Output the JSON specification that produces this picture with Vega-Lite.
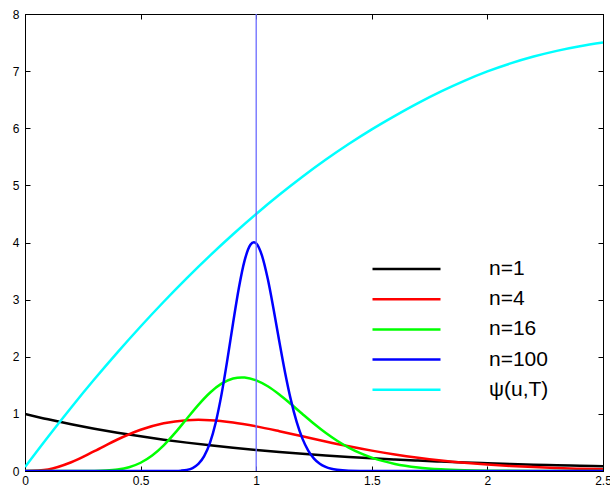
{
  "$schema": "https://vega.github.io/schema/vega-lite/v6.json",
  "width": 578,
  "height": 457,
  "autosize": {"type": "none"},
  "padding": {"left": 25, "top": 14, "right": 7, "bottom": 18},
  "config": {
    "view": {"stroke": "black", "strokeWidth": 1},
    "font": "Liberation Sans",
    "axis": {"grid": false, "domainColor": "black", "tickColor": "black", "labelColor": "black", "labelFontSize": 12, "labelFont": "Liberation Sans", "tickSize": -5, "title": null, "domainWidth": 1, "tickWidth": 1, "format": "~g"}
  },
  "layer": [
    {
      "data": {"values": [
        {"s":"n=1","x":0,"y":1},{"s":"n=1","x":0.1,"y":0.9048},{"s":"n=1","x":0.2,"y":0.8187},{"s":"n=1","x":0.3,"y":0.7408},{"s":"n=1","x":0.4,"y":0.6703},{"s":"n=1","x":0.5,"y":0.6065},{"s":"n=1","x":0.6,"y":0.5488},{"s":"n=1","x":0.7,"y":0.4966},{"s":"n=1","x":0.8,"y":0.4493},{"s":"n=1","x":0.9,"y":0.4066},{"s":"n=1","x":1.0,"y":0.3679},{"s":"n=1","x":1.1,"y":0.3329},{"s":"n=1","x":1.2,"y":0.3012},{"s":"n=1","x":1.3,"y":0.2725},{"s":"n=1","x":1.4,"y":0.2466},{"s":"n=1","x":1.5,"y":0.2231},{"s":"n=1","x":1.6,"y":0.2019},{"s":"n=1","x":1.7,"y":0.1827},{"s":"n=1","x":1.8,"y":0.1653},{"s":"n=1","x":1.9,"y":0.1496},{"s":"n=1","x":2.0,"y":0.1353},{"s":"n=1","x":2.1,"y":0.1225},{"s":"n=1","x":2.2,"y":0.1108},{"s":"n=1","x":2.3,"y":0.1003},{"s":"n=1","x":2.4,"y":0.0907},{"s":"n=1","x":2.5,"y":0.0821},
        {"s":"n=4","x":0,"y":0},{"s":"n=4","x":0.1,"y":0.0286},{"s":"n=4","x":0.2,"y":0.1534},{"s":"n=4","x":0.3,"y":0.347},{"s":"n=4","x":0.4,"y":0.5513},{"s":"n=4","x":0.5,"y":0.7218},{"s":"n=4","x":0.6,"y":0.8361},{"s":"n=4","x":0.7,"y":0.8899},{"s":"n=4","x":0.75,"y":0.8962},{"s":"n=4","x":0.8,"y":0.8904},{"s":"n=4","x":0.9,"y":0.8498},{"s":"n=4","x":1.0,"y":0.7815},{"s":"n=4","x":1.1,"y":0.6972},{"s":"n=4","x":1.2,"y":0.6068},{"s":"n=4","x":1.3,"y":0.5171},{"s":"n=4","x":1.4,"y":0.4329},{"s":"n=4","x":1.5,"y":0.3569},{"s":"n=4","x":1.6,"y":0.2904},{"s":"n=4","x":1.7,"y":0.2335},{"s":"n=4","x":1.8,"y":0.1858},{"s":"n=4","x":1.9,"y":0.1465},{"s":"n=4","x":2.0,"y":0.1145},{"s":"n=4","x":2.1,"y":0.0889},{"s":"n=4","x":2.2,"y":0.0685},{"s":"n=4","x":2.3,"y":0.0525},{"s":"n=4","x":2.4,"y":0.0399},{"s":"n=4","x":2.5,"y":0.0303},
        {"s":"n=16","x":0,"y":0},{"s":"n=16","x":0.2,"y":0.00002},{"s":"n=16","x":0.3,"y":0.00167},{"s":"n=16","x":0.35,"y":0.00756},{"s":"n=16","x":0.4,"y":0.0252},{"s":"n=16","x":0.45,"y":0.0662},{"s":"n=16","x":0.5,"y":0.1444},{"s":"n=16","x":0.55,"y":0.2711},{"s":"n=16","x":0.6,"y":0.4492},{"s":"n=16","x":0.65,"y":0.6706},{"s":"n=16","x":0.7,"y":0.9158},{"s":"n=16","x":0.75,"y":1.1582},{"s":"n=16","x":0.8,"y":1.3702},{"s":"n=16","x":0.85,"y":1.5285},{"s":"n=16","x":0.9,"y":1.6189},{"s":"n=16","x":0.9375,"y":1.6389},{"s":"n=16","x":0.95,"y":1.6368},{"s":"n=16","x":1.0,"y":1.5875},{"s":"n=16","x":1.05,"y":1.4829},{"s":"n=16","x":1.1,"y":1.3388},{"s":"n=16","x":1.15,"y":1.1718},{"s":"n=16","x":1.2,"y":0.9969},{"s":"n=16","x":1.25,"y":0.8264},{"s":"n=16","x":1.3,"y":0.6687},{"s":"n=16","x":1.35,"y":0.5293},{"s":"n=16","x":1.4,"y":0.4103},{"s":"n=16","x":1.45,"y":0.3121},{"s":"n=16","x":1.5,"y":0.2332},{"s":"n=16","x":1.6,"y":0.124},{"s":"n=16","x":1.7,"y":0.0621},{"s":"n=16","x":1.8,"y":0.0296},{"s":"n=16","x":1.9,"y":0.0134},{"s":"n=16","x":2.0,"y":0.00585},{"s":"n=16","x":2.2,"y":0.001},{"s":"n=16","x":2.5,"y":0.00006},
        {"s":"n=100","x":0,"y":0},{"s":"n=100","x":0.5,"y":0},{"s":"n=100","x":0.6,"y":0.0001},{"s":"n=100","x":0.65,"y":0.0019},{"s":"n=100","x":0.675,"y":0.00655},{"s":"n=100","x":0.7,"y":0.0197},{"s":"n=100","x":0.725,"y":0.0521},{"s":"n=100","x":0.75,"y":0.1227},{"s":"n=100","x":0.775,"y":0.2589},{"s":"n=100","x":0.8,"y":0.4924},{"s":"n=100","x":0.825,"y":0.8504},{"s":"n=100","x":0.85,"y":1.341},{"s":"n=100","x":0.875,"y":1.9411},{"s":"n=100","x":0.9,"y":2.5912},{"s":"n=100","x":0.925,"y":3.2047},{"s":"n=100","x":0.95,"y":3.6868},{"s":"n=100","x":0.975,"y":3.9601},{"s":"n=100","x":0.99,"y":4.0063},{"s":"n=100","x":1.0,"y":3.986},{"s":"n=100","x":1.025,"y":3.7712},{"s":"n=100","x":1.05,"y":3.3636},{"s":"n=100","x":1.075,"y":2.8366},{"s":"n=100","x":1.1,"y":2.2671},{"s":"n=100","x":1.125,"y":1.7217},{"s":"n=100","x":1.15,"y":1.2451},{"s":"n=100","x":1.175,"y":0.8592},{"s":"n=100","x":1.2,"y":0.5671},{"s":"n=100","x":1.225,"y":0.3584},{"s":"n=100","x":1.25,"y":0.2174},{"s":"n=100","x":1.275,"y":0.1268},{"s":"n=100","x":1.3,"y":0.0711},{"s":"n=100","x":1.325,"y":0.0385},{"s":"n=100","x":1.35,"y":0.0201},{"s":"n=100","x":1.4,"y":0.00496},{"s":"n=100","x":1.5,"y":0.00021},{"s":"n=100","x":2.0,"y":0},{"s":"n=100","x":2.5,"y":0},
        {"s":"ψ(u,T)","x":0,"y":0.07},{"s":"ψ(u,T)","x":0.1,"y":0.601},{"s":"ψ(u,T)","x":0.2,"y":1.113},{"s":"ψ(u,T)","x":0.3,"y":1.605},{"s":"ψ(u,T)","x":0.4,"y":2.077},{"s":"ψ(u,T)","x":0.5,"y":2.53},{"s":"ψ(u,T)","x":0.6,"y":2.963},{"s":"ψ(u,T)","x":0.7,"y":3.377},{"s":"ψ(u,T)","x":0.8,"y":3.771},{"s":"ψ(u,T)","x":0.9,"y":4.145},{"s":"ψ(u,T)","x":1.0,"y":4.5},{"s":"ψ(u,T)","x":1.1,"y":4.835},{"s":"ψ(u,T)","x":1.2,"y":5.151},{"s":"ψ(u,T)","x":1.3,"y":5.447},{"s":"ψ(u,T)","x":1.4,"y":5.723},{"s":"ψ(u,T)","x":1.5,"y":5.98},{"s":"ψ(u,T)","x":1.6,"y":6.217},{"s":"ψ(u,T)","x":1.7,"y":6.44},{"s":"ψ(u,T)","x":1.8,"y":6.645},{"s":"ψ(u,T)","x":1.9,"y":6.83},{"s":"ψ(u,T)","x":2.0,"y":6.995},{"s":"ψ(u,T)","x":2.1,"y":7.135},{"s":"ψ(u,T)","x":2.2,"y":7.255},{"s":"ψ(u,T)","x":2.3,"y":7.355},{"s":"ψ(u,T)","x":2.4,"y":7.435},{"s":"ψ(u,T)","x":2.5,"y":7.5}
      ]},
      "mark": {"type": "line", "strokeWidth": 2.5, "interpolate": "monotone", "clip": true},
      "encoding": {
        "x": {"field": "x", "type": "quantitative", "scale": {"domain": [0, 2.5], "nice": false, "zero": false},
              "axis": {"orient": "bottom", "values": [0, 0.5, 1, 1.5, 2, 2.5], "labelPadding": 9, "labelFlush": false, "labelOverlap": false, "labelBound": false}},
        "y": {"field": "y", "type": "quantitative", "scale": {"domain": [0, 8], "nice": false},
              "axis": {"orient": "left", "values": [0, 1, 2, 3, 4, 5, 6, 7, 8], "labelPadding": 11, "labelFlush": false, "labelOverlap": false}},
        "color": {"field": "s", "type": "nominal", "sort": null,
                  "scale": {"domain": ["n=1", "n=4", "n=16", "n=100", "ψ(u,T)"], "range": ["#000000", "#ff0000", "#00ff00", "#0000ff", "#00ffff"]},
                  "legend": {"orient": "none", "legendX": 371, "legendY": 244.5, "title": null, "symbolType": "M-5,0H5", "symbolSize": 185, "symbolStrokeWidth": 2.5, "labelFontSize": 21, "labelFont": "Liberation Sans", "labelOffset": 72, "padding": 0, "rowPadding": 8.2}}
      }
    },
    {
      "data": {"values": [{"x": 1}]},
      "mark": {"type": "rule", "color": "#6b6bff", "strokeWidth": 1.3},
      "encoding": {
        "x": {"field": "x", "type": "quantitative", "scale": {"domain": [0, 2.5], "nice": false},
              "axis": {"orient": "top", "values": [0, 0.5, 1, 1.5, 2, 2.5], "labels": false}},
        "y": {"datum": 0, "type": "quantitative", "scale": {"domain": [0, 8], "nice": false},
              "axis": {"orient": "right", "values": [0, 1, 2, 3, 4, 5, 6, 7, 8], "labels": false}},
        "y2": {"datum": 8}
      }
    }
  ],
  "resolve": {"axis": {"x": "independent", "y": "independent"}}
}
